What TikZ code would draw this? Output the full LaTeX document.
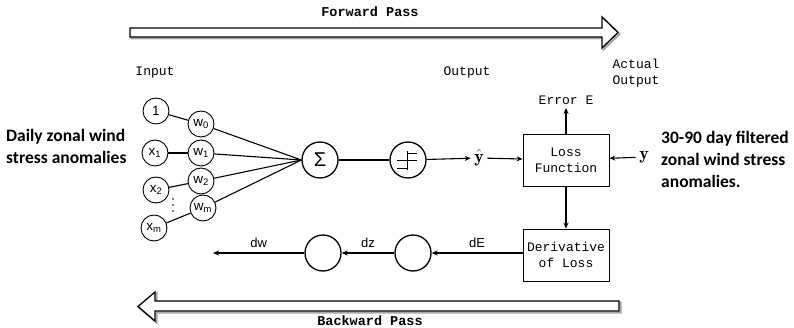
\documentclass[tikz,border=0pt]{standalone}
\usepackage{fontspec}
\setsansfont{Liberation Sans}
\setmonofont{Liberation Mono}
\newfontfamily\notefont{Carlito}
\usepackage{tikz}
\usetikzlibrary{arrows.meta,positioning}

\begin{document}
\begin{tikzpicture}[
    x=1pt, y=-1pt,
    every node/.style={font=\ttfamily\fontsize{13}{16}\selectfont},
    unit/.style={circle, draw, line width=0.9pt, minimum size=26pt, inner sep=0pt, font=\sffamily\fontsize{13.5}{14}\selectfont},
    neuron/.style={circle, draw, line width=1.3pt, minimum size=36pt, inner sep=0pt},
    block/.style={rectangle, draw, line width=0.8pt, minimum width=86pt, minimum height=52pt, inner sep=0pt, align=center},
    grad/.style={font=\sffamily\fontsize{13}{14}\selectfont},
    note/.style={font=\notefont\bfseries\fontsize{17.5}{22}\selectfont, align=left, inner sep=0pt},
    arr/.style={-{Stealth[length=6pt, width=5pt]}, line width=1.1pt},
    pass/.style={draw, line width=1.3pt, fill=white, line join=miter},
    passshadow/.style={draw=black!35, line width=2pt, line join=miter},
]
    \useasboundingbox (0,0) rectangle (794,328);

    % forward / backward pass arrows
    \draw[passshadow, shift={(1.5,1.5)}] (130,28) -- (602,28) -- (602,17) -- (618,32.5) -- (602,48) -- (602,37) -- (130,37) -- cycle;
    \draw[pass] (130,28) -- (602,28) -- (602,17) -- (618,32.5) -- (602,48) -- (602,37) -- (130,37) -- cycle;
    \node[font=\ttfamily\bfseries\fontsize{13.5}{16}\selectfont] (fwdlbl) at (370,12) {Forward Pass};

    \draw[passshadow, shift={(1.5,1.5)}] (619,301) -- (155,301) -- (155,292) -- (138,306.5) -- (155,321) -- (155,311) -- (619,311) -- cycle;
    \draw[pass] (619,301) -- (155,301) -- (155,292) -- (138,306.5) -- (155,321) -- (155,311) -- (619,311) -- cycle;
    \node[font=\ttfamily\bfseries\fontsize{13.5}{16}\selectfont] (bwdlbl) at (370,321) {Backward Pass};

    % headings
    \node (inlbl) at (155,73) {Input};
    \node (outlbl) at (467,73) {Output};
    \node[align=left, inner sep=0pt] (actlbl) at (636,73) {Actual\\Output};

    % inputs and weights
    \node[unit] (one) at (156,111) {1};
    \node[unit] (x1) at (155,153) {x\textsubscript{1}};
    \node[unit] (x2) at (156,190) {x\textsubscript{2}};
    \node[unit] (xm) at (154,228) {x\textsubscript{m}};
    \node[unit] (w0) at (201,124) {w\textsubscript{0}};
    \node[unit] (w1) at (201,153) {w\textsubscript{1}};
    \node[unit] (w2) at (201,181) {w\textsubscript{2}};
    \node[unit] (wm) at (203,208) {w\textsubscript{m}};
    \foreach \dy in {-6,0,6}
        \fill (173,205+\dy) circle (0.8);

    \node[neuron] (sum) at (320,160) {\sffamily\fontsize{20}{20}\selectfont Σ};
    \node[neuron] (act) at (408,160) {};
    \begin{scope}[shift={(act.center)}, line width=0.8pt]
        \draw (-1,-9) -- (-1,10);
        \draw (-1,-7) -- (9,-7);
        \draw (-11,0) -- (9,0);
        \draw (-11,8) -- (-1,8);
    \end{scope}

    \foreach \i/\w in {one/w0, x1/w1, x2/w2, xm/wm} {
        \draw[line width=1.1pt] (\i) -- (\w);
        \draw[line width=1.1pt] (\w) -- (sum.west);
    }
    \draw[line width=1.1pt] (sum) -- (act);

    % loss side
    \node[font=\fontsize{18}{18}\selectfont] (yhat) at (479,158) {$\hat{\mathbf{y}}$};
    \node[block] (loss) at (566,160) {Loss\\Function};
    \node (errE) at (566,100) {Error E};
    \node[font=\fontsize{18}{18}\selectfont] (yact) at (644,157) {$\mathbf{y}$};
    \node[block] (deriv) at (566,255) {Derivative\\of Loss};

    \draw[arr] (act) -- (yhat);
    \draw[arr] (yhat) -- (loss);
    \draw[arr] (yact) -- (loss);
    \draw[arr] (loss) -- (errE);
    \draw[arr] (loss) -- (deriv);

    % backward chain
    \node[neuron] (bz) at (413,253) {};
    \node[neuron] (bw) at (323,253) {};
    \coordinate (dwend) at (213,253);

    \draw[arr] (deriv.west |- bz) -- node[grad, above=1pt] {dE} (bz);
    \draw[arr] (bz) -- node[grad, above=1pt] {dz} (bw);
    \draw[arr] (bw) -- node[grad, above=1pt] {dw} (dwend);

    % data notes
    \node[note, anchor=west] (xnote) at (6,146) {Daily zonal wind\\stress anomalies};
    \node[note, anchor=west] (ynote) at (661,159) {30-90 day filtered\\zonal wind stress\\anomalies.};
\end{tikzpicture}
\end{document}
